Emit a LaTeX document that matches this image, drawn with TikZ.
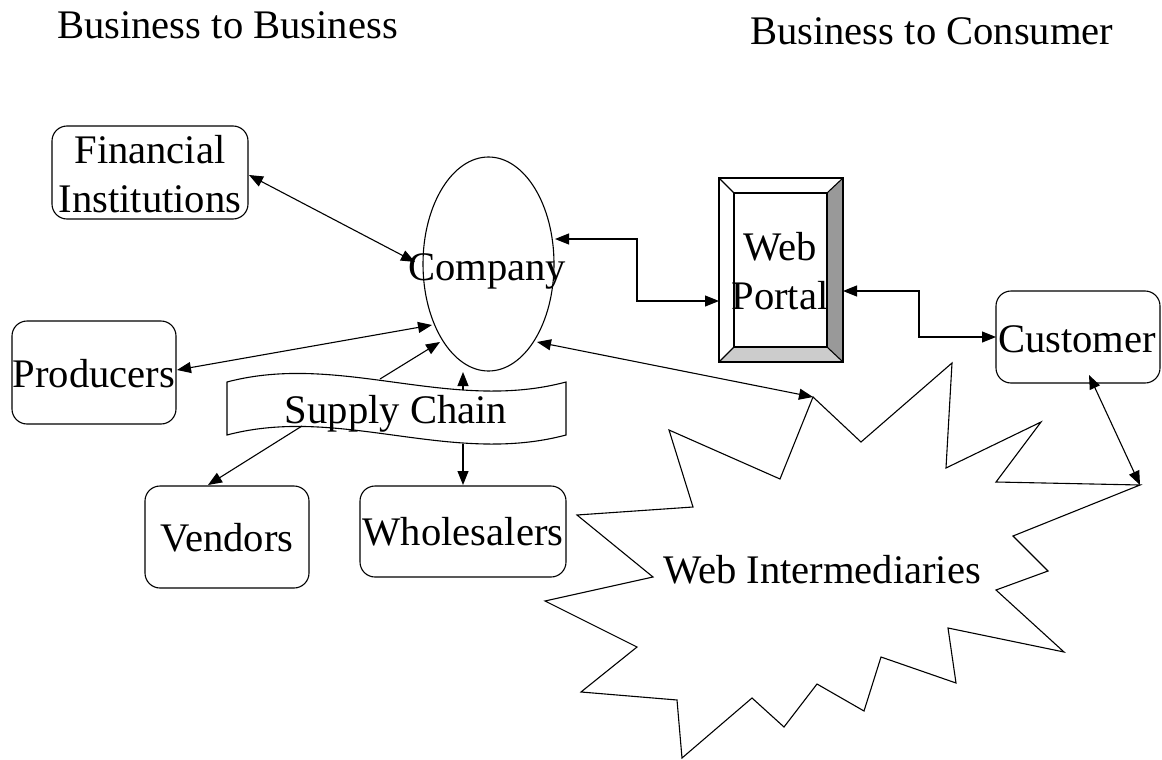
\documentclass[tikz,border=0pt]{standalone}
\usepackage{fontspec}
\setmainfont{Liberation Serif}
\usetikzlibrary{arrows.meta,shapes.geometric}
\tikzset{
  lbl/.style={anchor=base, inner sep=0pt, font=\fontsize{40.6}{49}\selectfont},
  titletext/.style={anchor=base west, inner sep=0pt, font=\fontsize{40.6}{49}\selectfont},
  rbox/.style={draw, line width=1.1pt, rounded corners=15pt, inner sep=0pt},
  ln/.style={line width=1.1pt},
  one/.style={ln, -{Triangle[length=14pt,width=11pt]}},
  two/.style={ln, {Triangle[length=14pt,width=11pt]}-{Triangle[length=14pt,width=11pt]}},
}
\begin{document}
\begin{tikzpicture}[x=1pt,y=-1pt]
\useasboundingbox (0,0) rectangle (1162,760);
\fill[white] (0,0) rectangle (1162,760);

% titles
\node[titletext] (t1) at (57,39) {Business to Business};
\node[titletext] (t2) at (750,45) {Business to Consumer};

% boxes
\node[rbox, minimum width=196pt, minimum height=93pt] (fin) at (150,172.5) {};
\node[lbl] (fint1) at (150,163) {Financial};
\node[lbl] (fint2) at (150,212) {Institutions};

\node[rbox, minimum width=164pt, minimum height=103pt] (prod) at (94,372.5) {};
\node[lbl] (prodt) at (94,387) {Producers};

\node[rbox, minimum width=164pt, minimum height=102pt] (vend) at (227,537) {};
\node[lbl] (vendt) at (227,551) {Vendors};

\node[rbox, minimum width=206pt, minimum height=91pt] (whol) at (463,531.5) {};
\node[lbl] (wholt) at (463,545) {Wholesalers};

\node[rbox, minimum width=164pt, minimum height=92pt] (cust) at (1078,337) {};
\node[lbl] (custt) at (1077,352) {Customer};

% company ellipse
\node[draw, ln, ellipse, minimum width=131pt, minimum height=214pt, inner sep=0pt] (comp) at (488.5,264) {};
\node[lbl] (compt) at (487,280) {Company};

% web portal
\draw[ln, fill=white] (719,178) rectangle (843,362);
\fill[gray!80] (827,193) -- (843,178) -- (843,362) -- (827,347) -- cycle;
\fill[gray!40] (734,347) -- (827,347) -- (843,362) -- (719,362) -- cycle;
\draw[ln] (719,178) rectangle (843,362);
\draw[ln] (734,193) rectangle (827,347);
\draw[ln] (719,178) -- (734,193) (843,178) -- (827,193) (719,362) -- (734,347) (843,362) -- (827,347);
\node[lbl] (webt1) at (780,260) {Web};
\node[lbl] (webt2) at (780,309) {Portal};

% supply chain banner
\draw[ln, fill=white] (227,382) .. controls (340,352) and (450,413) .. (566,382)
  -- (566,435) .. controls (450,466) and (340,405) .. (227,435) -- cycle;
\node[lbl] (sct) at (396,423) {Supply Chain};

% web intermediaries starburst
\draw[ln, fill=white] (813,397) -- (861,442) -- (952,363) -- (946,468) -- (1041,422)
  -- (996,482) -- (1140,485) -- (1013,536) -- (1048,571) -- (996,590) -- (1064,652)
  -- (948,628) -- (956,683) -- (881,657) -- (864,711) -- (817,684) -- (784,727)
  -- (752,698) -- (682,758) -- (677,700) -- (581,692) -- (637,647) -- (545,601)
  -- (653,577) -- (577,515) -- (693,507) -- (669,430) -- (780,479) -- cycle;
\node[lbl] (wit) at (822,583) {Web Intermediaries};

% connector end points
\coordinate (fin-e) at (249,175);
\coordinate (comp-fin) at (415,262);
\coordinate (prod-e) at (177,370);
\coordinate (comp-prod) at (432,325);
\coordinate (comp-sc) at (440,342);
\coordinate (sc-comp) at (380,379);
\coordinate (sc-up) at (463,390);
\coordinate (comp-up) at (463,372);
\coordinate (sc-vend) at (302,426);
\coordinate (vend-n) at (208,485);
\coordinate (sc-whol) at (463,444);
\coordinate (whol-n) at (463,485);
\coordinate (comp-e) at (555,239);
\coordinate (web-w) at (719,301);
\coordinate (web-e) at (843,291);
\coordinate (cust-w) at (996,337);
\coordinate (comp-se) at (537,342);
\coordinate (wi-tip) at (813,397);
\coordinate (cust-s) at (1089,375);
\coordinate (wi-ne) at (1140,485);

% connectors
\draw[two] (fin-e) -- (comp-fin);
\draw[two] (prod-e) -- (comp-prod);
\draw[one] (sc-comp) -- (comp-sc);
\draw[one] (sc-up) -- (comp-up);
\draw[one] (sc-vend) -- (vend-n);
\draw[one] (sc-whol) -- (whol-n);
\draw[two] (comp-e) -- (637,239) -- (637,301) -- (web-w);
\draw[two] (web-e) -- (919,291) -- (919,337) -- (cust-w);
\draw[two] (comp-se) -- (wi-tip);
\draw[two] (cust-s) -- (wi-ne);
\end{tikzpicture}
\end{document}
